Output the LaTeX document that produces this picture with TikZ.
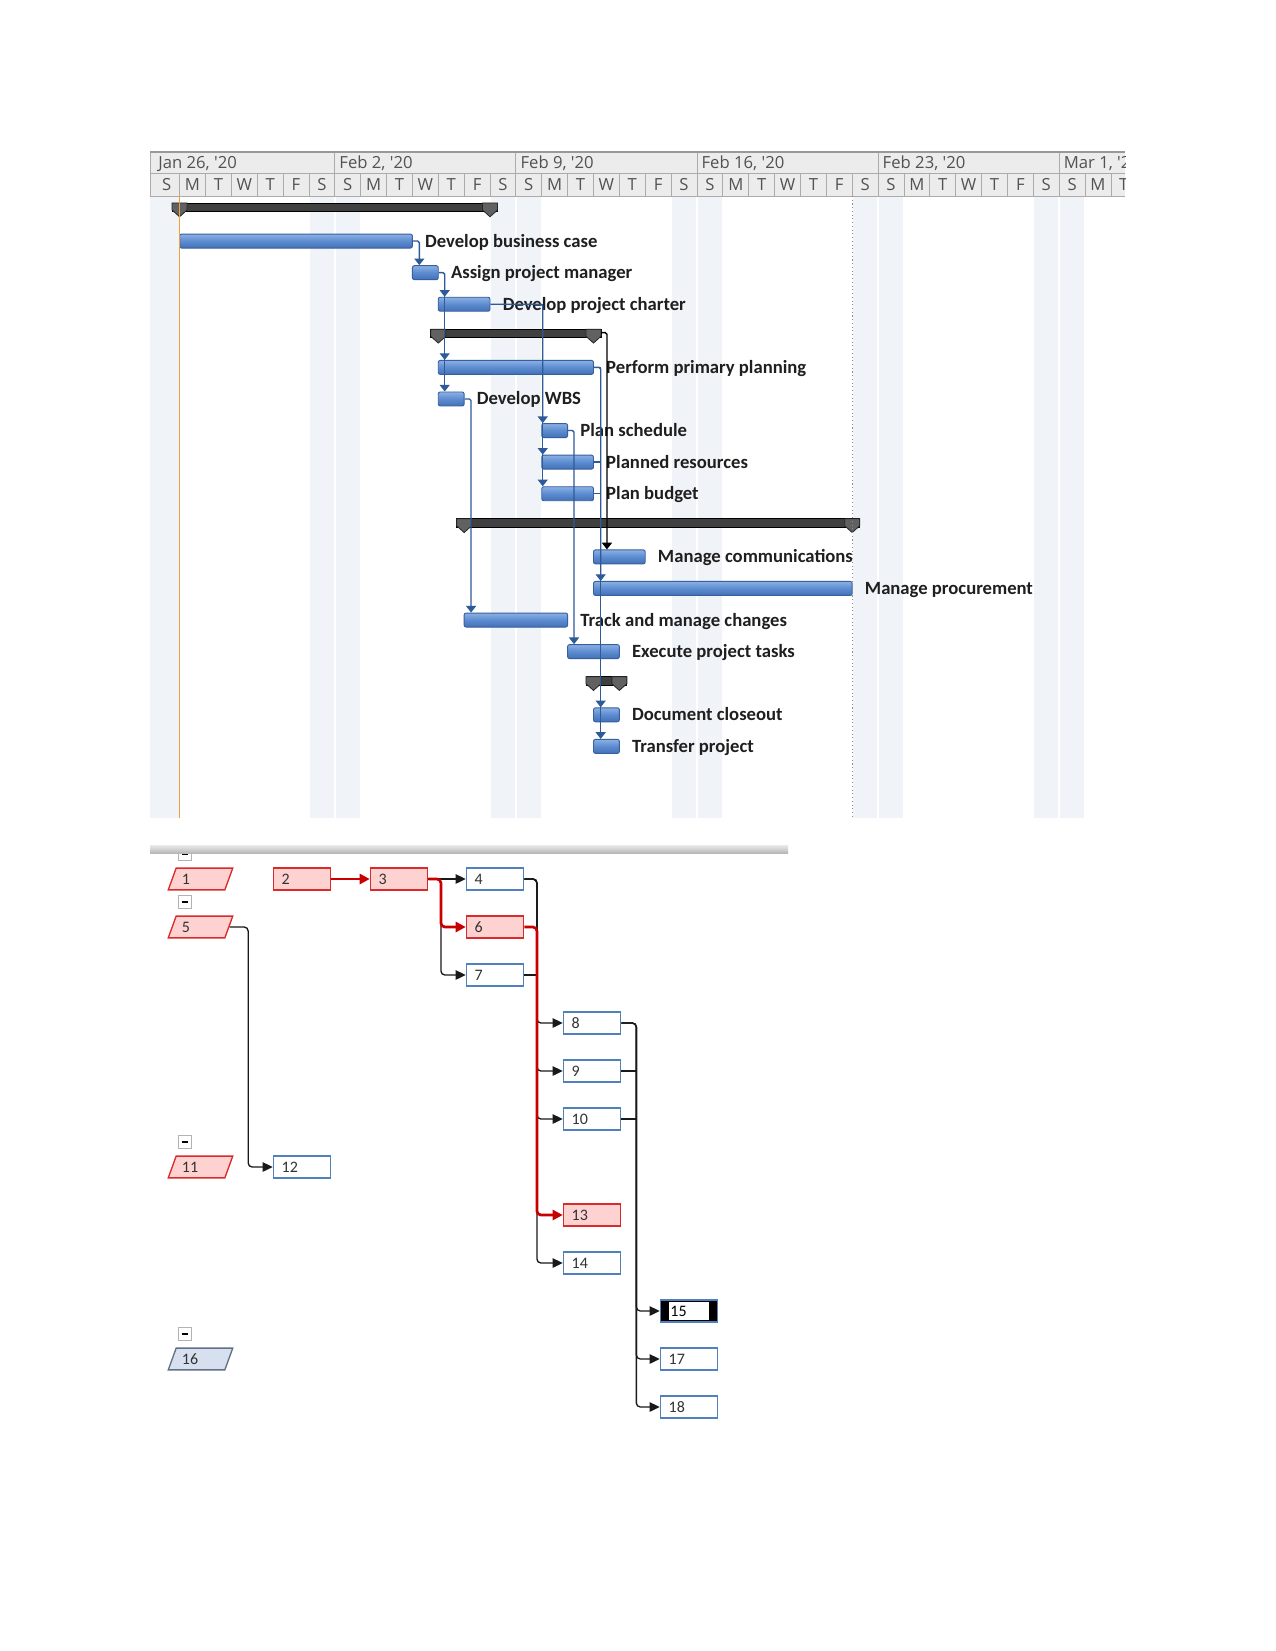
\documentclass[tikz,border=0pt]{standalone}
\usepackage{fontspec}
\setmainfont{Carlito}
\newfontfamily\hdrfont{Open Sans}
\usetikzlibrary{arrows.meta,positioning,shapes.geometric}

\definecolor{bartop}{HTML}{8CB0E3}
\definecolor{barmid}{HTML}{5B8BD0}
\definecolor{barbot}{HTML}{4571B6}
\definecolor{barline}{HTML}{355F9E}
\definecolor{linkblue}{HTML}{2F5A98}
\definecolor{hdrfill}{HTML}{ECECEC}
\definecolor{hdrgrid}{HTML}{ABABAB}
\definecolor{wkend}{HTML}{F0F3F7}
\definecolor{today}{HTML}{F0A040}
\definecolor{critfill}{HTML}{FFD2D2}
\definecolor{critline}{HTML}{DA2A2A}
\definecolor{critlink}{HTML}{C80000}
\definecolor{boxline}{HTML}{4F81BD}
\definecolor{grpfill}{HTML}{D7E0EE}
\definecolor{grpline}{HTML}{62708A}

\tikzset{
  taskbar/.style={rectangle,rounded corners=1.5pt,draw=barline,line width=.7pt,
    top color=bartop,bottom color=barbot,middle color=barmid,minimum height=10.5pt,inner sep=0pt},
  tasklabel/.style={inner sep=0pt,text=black!88,font=\bfseries\fontsize{14}{14}\selectfont,
    text height=9pt,text depth=0pt},
  sumbar/.style={fill=black!75,draw=black,line width=.6pt},
  sumtip/.style={fill=black!62,draw=black!85,line width=.6pt},
  glink/.style={draw=linkblue,line width=1pt,rounded corners=1.2pt,-{Triangle[width=7.5pt,length=5pt]}},
  hdr/.style={text=black!68,font=\hdrfont\fontsize{12.5}{13}\selectfont,inner sep=0pt,
    text height=8.9pt,text depth=0pt},
  netbox/.style={rectangle,draw=boxline,line width=1pt,fill=white,text width=30.5pt,align=left,
    inner xsep=6.2pt,inner ysep=0pt,text height=11.9pt,text depth=4.4pt,text=black!80,
    font=\fontsize{12}{12}\selectfont},
  netgrp/.style={trapezium,trapezium left angle=70,trapezium right angle=110,line width=1pt,
    text width=27.9pt,align=left,inner xsep=4.3pt,inner ysep=0pt,text height=11.9pt,
    text depth=4.4pt,text=black!80,font=\fontsize{12}{12}\selectfont},
  crit/.style={draw=critline,fill=critfill},
  grp/.style={draw=grpline,fill=grpfill},
  picked/.style={fill=black,text=black,text width=27.9pt,inner xsep=7.5pt,path picture={\fill[white]
    ([xshift=6.5pt,yshift=-1.5pt]path picture bounding box.north west) rectangle
    ([xshift=-6.3pt,yshift=1.6pt]path picture bounding box.south east);}},
  fold/.style={rectangle,draw=black!30,fill=white,minimum size=9.5pt,inner sep=0pt},
  nlink/.style={draw=black!90,line width=1pt,rounded corners=3pt,-{Triangle[width=7pt,length=7.5pt]}},
  ncrit/.style={draw=critlink,line width=2pt,rounded corners=3pt,-{Triangle[width=7.5pt,length=7.5pt]}}
}

\begin{document}
\begin{tikzpicture}[x=.75pt,y=-.75pt]
\useasboundingbox (0,0) rectangle (1275,1651);
\fill[white] (0,0) rectangle (1275,1651);

\begin{scope}[shift={(115.275pt,-157.125pt)},x=19.4025pt,y=-23.685pt]
\fill[wkend] (-.14,-.427) rectangle (.97,19.27);
\foreach \dd in {6,7,13,14,20,21,27,28,34,35}
  \fill[wkend] (\dd+.03,-.427) rectangle (\dd+.97,19.27);

\begin{scope}
\clip (-.14,-1.9) rectangle (37.55,-.4);
\fill[hdrfill] (-.14,-1.833) rectangle (37.55,-.427);
\draw[hdrgrid,line width=.6pt] (-.14,-1.134) -- (37.55,-1.134);
\draw[hdrgrid,line width=.6pt] (-.14,-.427) -- (37.55,-.427);
\draw[hdrgrid,line width=.6pt] (-.14,-1.833) -- (-.14,-.427);
\foreach \dd in {1,...,37} \draw[hdrgrid,line width=.6pt] (\dd,-1.134) -- (\dd,-.427);
\foreach \wk in {7,14,...,35} \draw[hdrgrid,line width=.6pt] (\wk,-1.833) -- (\wk,-1.134);
\draw[black!40,line width=1.4pt] (-.14,-1.833) -- (37.55,-1.833);
\foreach \wk/\txt in {0/{Jan 26, '20},7/{Feb 2, '20},14/{Feb 9, '20},21/{Feb 16, '20},28/{Feb 23, '20},35/{Mar 1, '20}}
  \node[hdr,anchor=west] at (\wk+.17,-1.485) {\txt};
\foreach \wk in {0,7,...,35}
  \foreach \ltr [count=\cnt from 0] in {S,M,T,W,T,F,S}
    \node[hdr] at (\wk+\cnt+.5,-.779) {\ltr};
\end{scope}

\foreach \ds/\de/\dr [count=\kk] in {1/13/0,11/17/4,12/27/10,17/18/15}{
  \draw[sumbar] (\ds-.29,\dr-.206) rectangle (\de+.29,\dr+.063);
  \foreach \tx in {\ds,\de}
    \draw[sumtip] (\tx-.29,\dr-.206) -- (\tx+.29,\dr-.206) -- (\tx+.29,\dr+.016)
      -- (\tx,\dr+.23) -- (\tx-.29,\dr+.016) -- cycle;
  \coordinate (sum\kk) at (\de+.29,\dr-.1);
}

\foreach \nm/\ds/\de/\dr in {dbc/1/10/1,apm/10/11/2,dpc/11/13/3,ppp/11/17/5,wbs/11/12/6,
    ps/15/16/7,pr/15/17/8,pb/15/17/9,mc/17/19/11,mp/17/27/12,tmc/12/16/13,ept/16/18/14,
    dc/17/18/16,tp/17/18/17}
  \node[taskbar,minimum width={(\de-\ds)*19.4025pt}] (\nm) at ({(\ds+\de)/2},\dr) {};

\foreach \nm/\txt in {dbc/Develop business case,apm/Assign project manager,
    dpc/Develop project charter,ppp/Perform primary planning,wbs/Develop WBS,
    ps/Plan schedule,pr/Planned resources,pb/Plan budget,mc/Manage communications,
    mp/Manage procurement,tmc/Track and manage changes,ept/Execute project tasks,
    dc/Document closeout,tp/Transfer project}
  \node[tasklabel,right=9pt of \nm] (\nm-l) {\txt};

\draw[today,line width=1pt] (1,-.427) -- (1,19.27);
\draw[black!45,line width=.8pt,dotted] (27,-.427) -- (27,19.27);

\draw[glink] (dbc.east) -- ++(.25,0) coordinate (k1) -- (k1 |- apm.north);
\draw[glink] (apm.east) -- ++(.23,0) coordinate (k2) -- (k2 |- dpc.north);
\foreach \tg in {ppp,wbs} \draw[glink] (k2) -- (k2 |- \tg.north);
\draw[glink] (dpc.east) -- ++(2.02,0) coordinate (k3) -- (k3 |- ps.north);
\foreach \tg in {pr,pb} \draw[glink] (k3) -- (k3 |- \tg.north);
\draw[glink,draw=black] (sum2) -- ++(.23,0) coordinate (k4) -- (k4 |- mc.north);
\draw[glink] (ppp.east) -- ++(.26,0) coordinate (k5) -- (k5 |- mp.north);
\foreach \tg in {dc,tp} \draw[glink] (k5) -- (k5 |- \tg.north);
\foreach \sr in {pr,pb} \draw[glink,-] (\sr.east) -- (k5 |- \sr.east);
\draw[glink] (wbs.east) -- ++(.25,0) coordinate (k6) -- (k6 |- tmc.north);
\draw[glink] (ps.east) -- ++(.23,0) coordinate (k7) -- (k7 |- ept.north);
\end{scope}

\foreach \yy/\nm in {854/f1,902/f5,1142/f11,1334/f16}
  \node[fold] (\nm) at (185,\yy) {\rule{4.5pt}{.9pt}};
\fill[top color=black!8,bottom color=black!28] (150,845) rectangle (788,853);

\node[netgrp,crit] (n1) at (200.5,879) {1};
\node[netgrp,crit] (n5) at (200.5,927) {5};
\node[netgrp,crit] (n11) at (200.5,1167) {11};
\node[netgrp,grp] (n16) at (200.5,1359) {16};

\node[netbox,crit] (n2) at (302,879) {2};
\node[netbox,crit] (n3) at (399,879) {3};
\node[netbox] (n4) at (495,879) {4};
\node[netbox,crit] (n6) at (495,927) {6};
\node[netbox] (n7) at (495,975) {7};
\node[netbox] (n8) at (592,1023) {8};
\node[netbox] (n9) at (592,1071) {9};
\node[netbox] (n10) at (592,1119) {10};
\node[netbox] (n12) at (302,1167) {12};
\node[netbox,crit] (n13) at (592,1215) {13};
\node[netbox] (n14) at (592,1263) {14};
\node[netbox,picked] (n15) at (689,1311) {15};
\node[netbox] (n17) at (689,1359) {17};
\node[netbox] (n18) at (689,1407) {18};

\draw[nlink] (n3) -- (n4);
\draw[nlink] (n3.east) -- ++(9.5pt,0) |- (n7.west);
\foreach \tg in {n8,n9,n10,n14} \draw[nlink] (n4.east) -- ++(9.5pt,0) |- (\tg.west);
\draw[nlink,-] (n7.east) -- ++(9.5pt,0);
\foreach \tg in {n15,n17,n18} \draw[nlink] (n8.east) -- ++(11.3pt,0) |- (\tg.west);
\foreach \sr in {n9,n10} \draw[nlink,-] (\sr.east) -- ++(11.3pt,0);
\draw[nlink] (n5.east) -- ++(14pt,0) |- (n12.west);

\draw[ncrit] (n2) -- (n3);
\draw[ncrit] (n3.east) -- ++(9.5pt,0) |- (n6.west);
\draw[ncrit] (n6.east) -- ++(9.5pt,0) |- (n13.west);
\end{tikzpicture}
\end{document}
